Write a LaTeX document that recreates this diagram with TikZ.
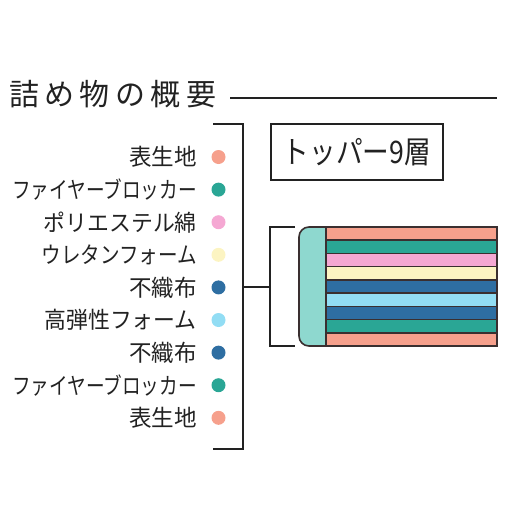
\documentclass[tikz,border=0pt]{standalone}
\usepackage{fontspec}
\usepackage{graphicx}
\newfontfamily\jpn{Noto Sans CJK JP}
\newfontfamily\jpnsp[LetterSpace=18]{Noto Sans CJK JP}
\definecolor{salmon}{HTML}{F6A08C}
\definecolor{teal}{HTML}{2AA695}
\definecolor{pinky}{HTML}{F5A8D3}
\definecolor{cream}{HTML}{FCF4C2}
\definecolor{dblue}{HTML}{2E6EA2}
\definecolor{lblue}{HTML}{92DDF4}
\definecolor{capc}{HTML}{8ED8CF}
\definecolor{edge}{HTML}{3A2F30}
\definecolor{ink}{HTML}{222222}
\tikzset{
  dot/.style={circle,inner sep=0pt,minimum size=14pt,fill=#1},
  lbl/.style={anchor=east,inner sep=0pt,text=ink,font=\jpn\fontsize{23}{23}\selectfont},
  brk/.style={draw=ink,line width=1.5pt},
  layer/.style={fill=#1,draw=edge,line width=1.6pt},
}
\begin{document}
\begin{tikzpicture}[x=1pt,y=-1pt]
\useasboundingbox (0,0) rectangle (512,512);
% title
\node[anchor=west,inner sep=0pt,text=ink,font=\jpnsp\fontsize{30}{30}\selectfont] (title) at (9,94) {詰め物の概要};
\coordinate (tl1) at (230,98);
\coordinate (tl2) at (497,98);
\draw[brk] (tl1) -- (tl2);
% list
\foreach \i/\t/\c/\sx in {0/表生地/salmon/0.98,1/ファイヤーブロッカー/teal/0.81,2/ポリエステル綿/pinky/0.95,3/ウレタンフォーム/cream/0.85,4/不織布/dblue/0.98,5/高弾性フォーム/lblue/0.95,6/不織布/dblue/0.98,7/ファイヤーブロッカー/teal/0.81,8/表生地/salmon/0.98}{
  \node[dot=\c] (d\i) at (218.5,157+32.6*\i) {};
  \node[lbl] (l\i) at (197,157+32.6*\i) {\scalebox{\sx}[1]{\t}};
}
% big bracket
\coordinate (b1) at (213,124);
\coordinate (b2) at (243,124);
\coordinate (b3) at (243,449);
\coordinate (b4) at (213,449);
\draw[brk] (b1) -- (b2) -- (b3) -- (b4);
\coordinate (m1) at (243,287);
\coordinate (m2) at (270,287);
\draw[brk] (m1) -- (m2);
% small bracket
\coordinate (s1) at (295,227);
\coordinate (s2) at (270,227);
\coordinate (s3) at (270,346);
\coordinate (s4) at (295,346);
\draw[brk] (s1) -- (s2) -- (s3) -- (s4);
% box
\node[draw=ink,line width=1.5pt,minimum width=172pt,minimum height=56pt,inner sep=0pt,text=ink,font=\jpn\fontsize{31}{31}\selectfont] (box) at (357,152) {\scalebox{0.86}[1]{トッパー9層}};
% mattress
\draw[fill=capc,draw=edge,line width=1.6pt,rounded corners=10pt] (326,227) -- (299,227) -- (299,346) -- (326,346);
\foreach \i/\c in {0/salmon,1/teal,2/pinky,3/cream,4/dblue,5/lblue,6/dblue,7/teal,8/salmon}{
  \draw[layer=\c] (326,227+13.222*\i) rectangle (497,227+13.222*\i+13.222);
}
\end{tikzpicture}
\end{document}
